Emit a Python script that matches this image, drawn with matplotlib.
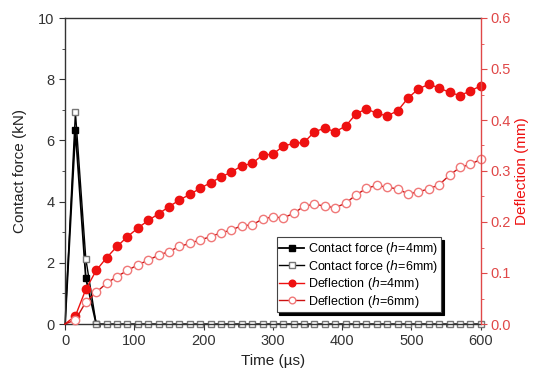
import numpy as np
import matplotlib
matplotlib.use("Agg")
import matplotlib.pyplot as plt
from matplotlib.ticker import MultipleLocator

plt.rcParams['font.family'] = ['Liberation Sans', 'DejaVu Sans']

# time axis (µs), sampled every 15 µs
t = np.arange(0, 601, 15)

force_t4 = [0, 15, 30, 45]
force_4mm = [0.0, 6.33, 1.5, 0.0]
force_6mm = [0.0, 6.92, 2.13, 0.0] + [0.0] * (len(t) - 4)

defl_4mm = [0.0, 0.016, 0.068, 0.105, 0.130, 0.152, 0.171, 0.188, 0.203, 0.216,
            0.230, 0.243, 0.254, 0.266, 0.277, 0.288, 0.298, 0.310, 0.315, 0.331,
            0.333, 0.349, 0.354, 0.356, 0.377, 0.384, 0.377, 0.388, 0.412, 0.422,
            0.413, 0.408, 0.418, 0.443, 0.461, 0.470, 0.463, 0.454, 0.448, 0.457,
            0.467]
defl_6mm = [0.0, 0.008, 0.043, 0.062, 0.080, 0.093, 0.105, 0.116, 0.125, 0.135,
            0.142, 0.152, 0.158, 0.165, 0.171, 0.179, 0.184, 0.193, 0.194, 0.206,
            0.210, 0.208, 0.217, 0.231, 0.235, 0.231, 0.228, 0.237, 0.253, 0.266,
            0.272, 0.268, 0.265, 0.255, 0.259, 0.265, 0.273, 0.292, 0.307, 0.313,
            0.323]

RED = '#ee1111'
AXRED = '#e04848'

fig = plt.figure(figsize=(5.33, 3.75), dpi=100)
ax = fig.add_axes([0.122, 0.136, 0.780, 0.816])
ax2 = ax.twinx()

l1, = ax.plot(force_t4, force_4mm, '-', color='black', lw=1.3, marker='s', ms=5,
              mfc='black', mec='black', markevery=slice(1, None),
              label='Contact force ($h$=4mm)')
l2, = ax.plot(t, force_6mm, '-', color='black', lw=1.0, marker='s', ms=5,
              mfc='white', mec='#777777', markevery=slice(1, None),
              label='Contact force ($h$=6mm)', clip_on=False)

l3, = ax2.plot(t, defl_4mm, '-', color=RED, lw=1.0, marker='o', ms=6,
               mfc=RED, mec=RED, markevery=slice(1, None),
               label='Deflection ($h$=4mm)', clip_on=False)
l4, = ax2.plot(t, defl_6mm, '-', color='#cc1111', lw=1.0, marker='o', ms=6,
               mfc='white', mec='#f07878', markevery=slice(1, None),
               label='Deflection ($h$=6mm)', clip_on=False)

ax.set_xlim(0, 600)
ax.set_ylim(0, 10)
ax2.set_ylim(0, 0.6)

ax.xaxis.set_major_locator(MultipleLocator(100))
ax.xaxis.set_minor_locator(MultipleLocator(50))
ax.yaxis.set_major_locator(MultipleLocator(2))
ax.yaxis.set_minor_locator(MultipleLocator(1))
ax2.yaxis.set_major_locator(MultipleLocator(0.1))
ax2.yaxis.set_minor_locator(MultipleLocator(0.05))
ax2.yaxis.set_major_formatter(matplotlib.ticker.FormatStrFormatter('%.1f'))

for a in (ax, ax2):
    for s in a.spines.values():
        s.set_linewidth(1.0)
ax.spines['top'].set_color('#333333')
ax.spines['left'].set_color('#333333')
ax.spines['bottom'].set_color('#333333')
ax2.spines['right'].set_color(AXRED)
ax2.spines['left'].set_visible(False)
ax2.spines['bottom'].set_visible(False)
ax2.spines['top'].set_visible(False)
ax.spines['right'].set_visible(False)

ax.tick_params(axis='both', which='major', direction='out', length=4, labelsize=10.5,
               colors='#333333')
ax.tick_params(axis='both', which='minor', direction='out', length=2.5, colors='#333333')
ax2.tick_params(axis='y', which='major', direction='out', length=4, labelsize=10.5,
                colors=AXRED, pad=3)
ax2.tick_params(axis='y', which='minor', direction='out', length=2.5, colors=AXRED)

ax.set_xlabel('Time (µs)', fontsize=11, color='#222222', labelpad=4)
ax.set_ylabel('Contact force (kN)', fontsize=11, color='#222222', labelpad=8)
ax2.set_ylabel('Deflection (mm)', fontsize=11, color=RED, labelpad=3)

leg = ax2.legend(handles=[l1, l2, l3, l4], loc='upper left',
                 bbox_to_anchor=(0.509, 0.283), fontsize=9, frameon=True,
                 fancybox=False, edgecolor='#444444', framealpha=1,
                 shadow={'color': 'black', 'alpha': 1}, borderpad=0.2,
                 labelspacing=0.05, handlelength=2.0, handletextpad=0.3,
                 borderaxespad=0, markerscale=0.8)
leg.get_frame().set_linewidth(0.8)

fig.savefig('out.png', dpi=100)
